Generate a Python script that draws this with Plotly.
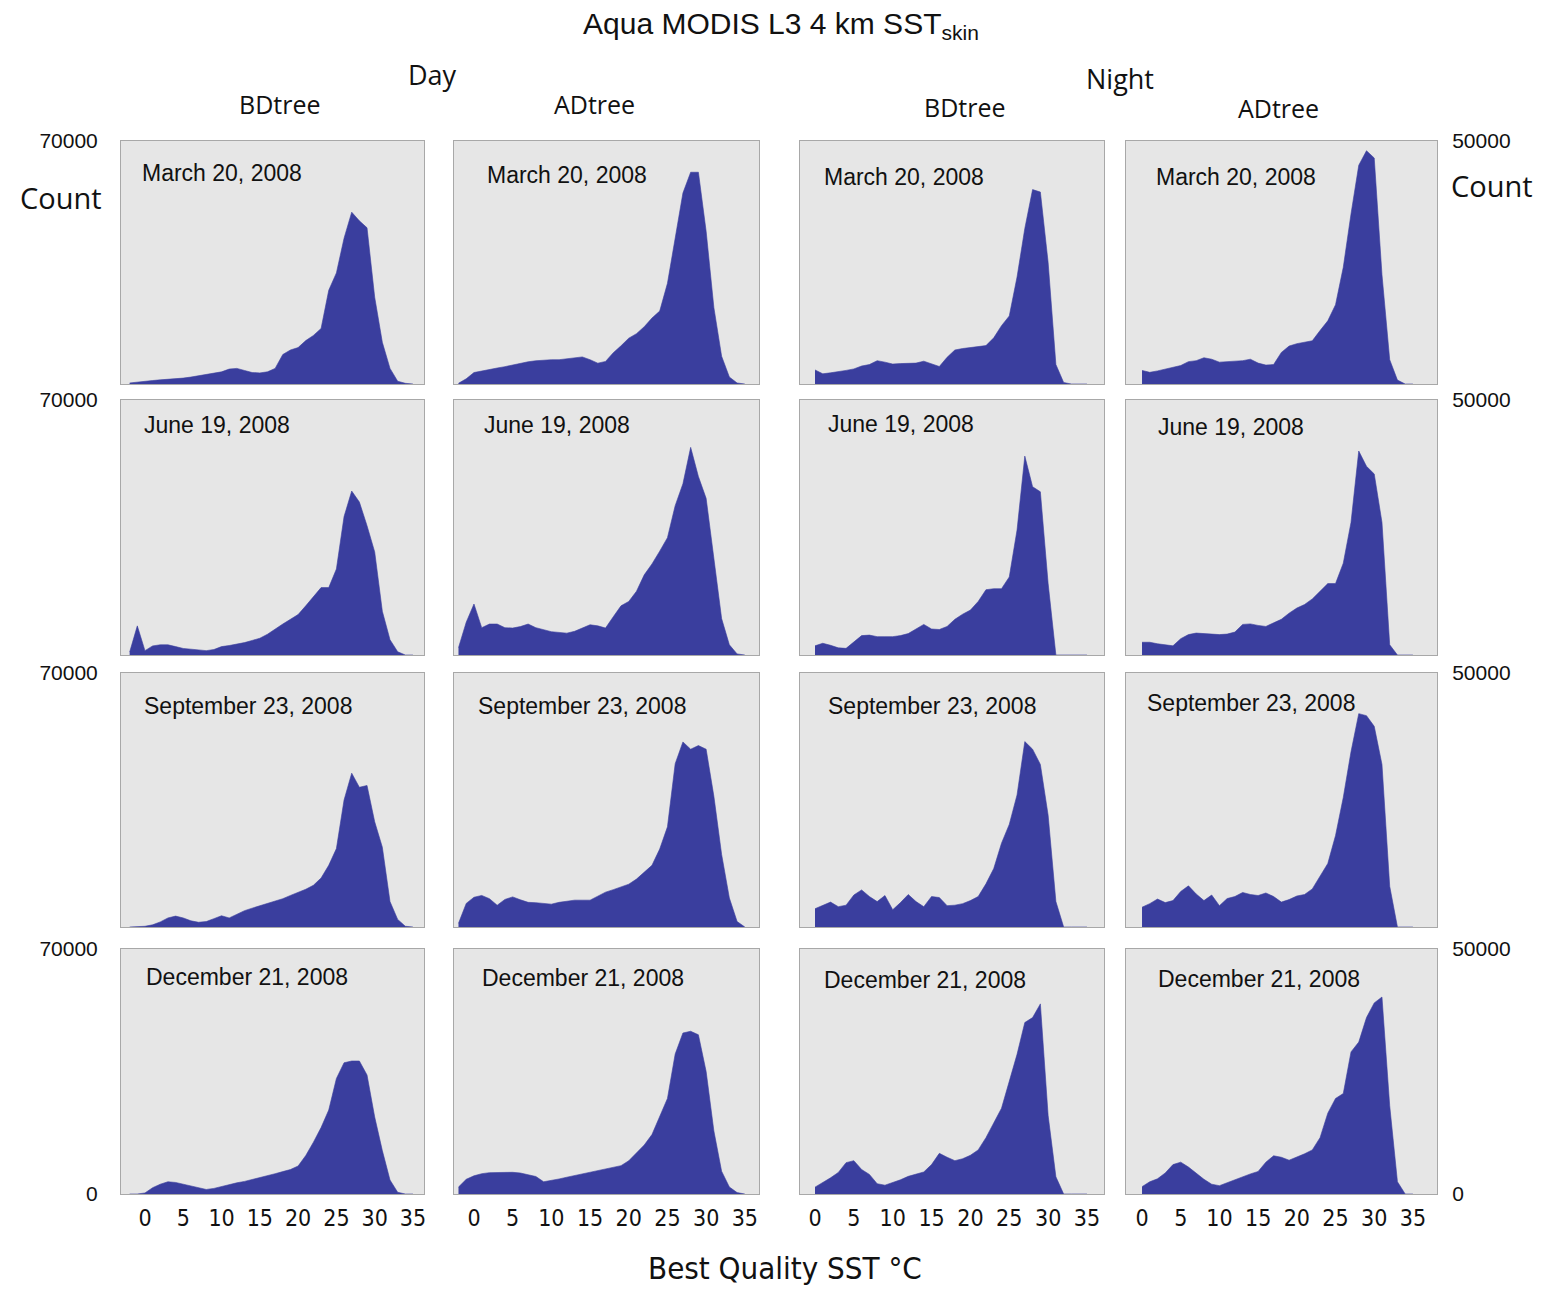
import plotly.graph_objects as go

# ---------------- data ----------------
sst_bins = list(range(-2, 36))  # deg C, -2 .. 35

# Day (count axis 0-70000)
day_bd_mar = [300, 600, 800, 1000, 1200, 1300, 1500, 1700, 2000, 2400, 2800, 3200, 3500, 4300, 4500, 3900, 3300, 3200, 3500, 4500,
              8500, 9800, 10500, 12500, 14000, 16000, 27000, 32000, 42000, 49500, 47000, 45000, 25000, 12000, 4500, 800, 200, 0]
day_ad_mar = [200, 1500, 3300, 3800, 4200, 4600, 5000, 5500, 6000, 6400, 6700, 6900, 7000, 7000, 7300, 7600, 7800, 7000, 6000, 6500,
              9000, 11000, 13200, 14500, 16500, 19000, 21000, 29000, 42000, 55000, 61000, 61000, 44000, 22000, 8000, 2000, 300, 0]
day_bd_jun = [800, 8000, 1200, 2500, 2800, 2800, 2300, 1800, 1600, 1500, 1200, 1500, 2300, 2600, 2900, 3400, 4000, 4600, 5700, 7200,
              8500, 9800, 11100, 13500, 16000, 18500, 18500, 23600, 38000, 45000, 42000, 35500, 28300, 12000, 4200, 900, 0, 0]
day_ad_jun = [2000, 9000, 14000, 7500, 8500, 8500, 7500, 7400, 7800, 8500, 7500, 7000, 6400, 6200, 6000, 6500, 7500, 8300, 8000, 7400,
              10500, 13500, 14700, 17500, 22000, 25000, 28500, 32200, 41000, 47000, 57000, 49000, 43000, 26000, 10000, 2800, 300, 0]
day_bd_sep = [0, 0, 200, 600, 1400, 2500, 3000, 2500, 1700, 1300, 1500, 2300, 3100, 2500, 3600, 4500, 5200, 5800, 6400, 7000,
              7800, 8700, 9500, 10400, 11500, 13500, 17000, 21600, 35000, 42400, 38500, 39000, 29000, 22000, 7000, 2100, 200, 0]
day_ad_sep = [1000, 6500, 8200, 8700, 7800, 6000, 7600, 8300, 7500, 6800, 6700, 6500, 6300, 6800, 7200, 7400, 7400, 7400, 8500, 9600,
              10300, 11000, 11800, 13200, 15000, 17000, 21500, 27600, 45000, 51000, 49000, 50000, 49000, 36000, 20000, 8000, 1500, 0]
day_bd_dec = [0, 0, 300, 1800, 2800, 3500, 3300, 2800, 2200, 1700, 1300, 1600, 2200, 2600, 3200, 3600, 4100, 4600, 5200, 5800,
              6400, 7000, 8000, 11000, 14800, 19000, 24000, 33000, 37500, 38000, 38000, 34000, 22000, 12400, 4000, 500, 0, 0]
day_ad_dec = [2000, 4200, 5200, 5800, 6100, 6200, 6200, 6200, 6000, 5500, 5000, 3500, 3800, 4300, 4800, 5300, 5700, 6300, 6800, 7300,
              7700, 8100, 9500, 11800, 14000, 17000, 22000, 27300, 40000, 46000, 46500, 45500, 35000, 18000, 6500, 2000, 400, 0]

# Night (count axis 0-50000)
night_bd_mar = [None, None, 2900, 2100, 2300, 2500, 2800, 3100, 3700, 4000, 4800, 4500, 4100, 4200, 4300, 4300, 4700, 4100, 3600, 5500,
                7000, 7300, 7500, 7700, 7900, 9500, 12000, 14000, 22000, 32000, 40000, 39500, 25000, 4000, 300, 0, 0, 0]
night_ad_mar = [None, None, 2800, 2400, 2700, 3100, 3400, 3800, 4600, 4800, 5400, 5100, 4500, 4600, 4700, 4800, 5100, 4300, 3900, 4000,
                6500, 7800, 8300, 8600, 8900, 11000, 13000, 16300, 24000, 35000, 45000, 48000, 46500, 22500, 5000, 800, 0, 0]
night_bd_jun = [None, None, 1800, 2300, 1900, 1400, 1300, 2500, 3800, 3900, 3600, 3600, 3600, 3800, 4200, 5100, 6000, 5100, 5000, 5600,
                7000, 8000, 8800, 10500, 12800, 13000, 13000, 15300, 24500, 39000, 33000, 32000, 14000, 0, 0, 0, 0, 0]
night_ad_jun = [None, None, 2500, 2500, 2200, 2000, 1800, 3200, 4000, 4300, 4200, 4000, 4000, 4100, 4500, 6000, 6100, 5800, 5600, 6300,
                7000, 8200, 9200, 9900, 11000, 12500, 14000, 14000, 18000, 26000, 40000, 37000, 35500, 26000, 2000, 0, 0, 0]
night_bd_sep = [None, None, 3600, 4200, 4900, 4000, 4300, 6300, 7300, 6000, 5000, 6200, 3400, 4800, 6400, 5000, 4000, 6000, 5800, 4200,
                4300, 4600, 5200, 6000, 8500, 11500, 16500, 20200, 26000, 36500, 35000, 32000, 22000, 5000, 0, 0, 0, 0]
night_ad_sep = [None, None, 3900, 4600, 5500, 4800, 5200, 7000, 8100, 6500, 5200, 6300, 4200, 5600, 6000, 6800, 6400, 6200, 6700, 6000,
                4900, 5400, 6100, 6400, 7500, 10000, 12500, 18000, 25500, 34500, 42000, 41600, 39500, 32000, 8000, 0, 0, 0]
night_bd_dec = [None, None, 1400, 2300, 3300, 4400, 6400, 6800, 5000, 4000, 2100, 1800, 2300, 2900, 3600, 4100, 4500, 6000, 8300, 7500,
                6800, 7200, 7900, 9000, 11500, 14500, 17500, 23000, 28500, 35000, 36000, 38800, 16000, 3500, 0, 0, 0, 0]
night_ad_dec = [None, None, 1500, 2500, 3100, 4300, 6000, 6500, 5500, 4200, 3000, 2000, 1700, 2300, 2900, 3600, 4100, 4600, 6500, 7800,
                7500, 6900, 7500, 8200, 9000, 11500, 16500, 19500, 20500, 29000, 31000, 36000, 39000, 40200, 18000, 2500, 0, 0]

dates = ["March 20, 2008", "June 19, 2008", "September 23, 2008", "December 21, 2008"]
column_titles = ["BDtree", "ADtree", "BDtree", "ADtree"]
group_titles = ["Day", "Night"]
x_tick_vals = [0, 5, 10, 15, 20, 25, 30, 35]
day_max = 70000
night_max = 50000

grid = [
    [day_bd_mar, day_ad_mar, night_bd_mar, night_ad_mar],
    [day_bd_jun, day_ad_jun, night_bd_jun, night_ad_jun],
    [day_bd_sep, day_ad_sep, night_bd_sep, night_ad_sep],
    [day_bd_dec, day_ad_dec, night_bd_dec, night_ad_dec],
]

# ---------------- layout geometry (pixels) ----------------
W, H = 1549, 1290
col_px = [(121, 424), (454, 759), (800, 1104), (1126, 1437)]
row_px = [(141, 384), (400, 655), (673, 927), (949, 1194)]
col_xrange = [[-3.13, 36.44], [-2.58, 36.83], [-1.93, 37.19], [-2.07, 38.11]]
date_pos = [
    [(140, 173), (485, 175), (822, 177), (1154, 177)],
    [(142, 425), (482, 425), (826, 424), (1156, 427)],
    [(142, 706), (476, 706), (826, 706), (1145, 703)],
    [(144, 977), (480, 978), (822, 980), (1156, 979)],
]

def px(x):
    return x / W

def py(y):
    return 1 - y / H

FILL = "#3a3e9e"
BG = "#e6e6e6"
BORDER = "#a8a8a8"
NARROW = "Liberation Sans Narrow, Arial Narrow, DejaVu Sans Condensed, Liberation Sans, sans-serif"
ARIAL = "Liberation Sans, Arial, sans-serif"
HUMAN = "Open Sans, Noto Sans, sans-serif"

fig = go.Figure()
layout = dict(
    width=W, height=H,
    margin=dict(l=0, r=0, t=0, b=0, pad=0, autoexpand=False),
    paper_bgcolor="white",
    plot_bgcolor=BG,
    showlegend=False,
    annotations=[],
)

for r in range(4):
    for c in range(4):
        n = r * 4 + c + 1
        xa = "x" if n == 1 else f"x{n}"
        ya = "y" if n == 1 else f"y{n}"
        fig.add_trace(go.Scatter(
            x=sst_bins, y=grid[r][c], mode="lines",
            line=dict(width=0.6, color=FILL), fill="tozeroy", fillcolor=FILL,
            xaxis=xa, yaxis=ya, hoverinfo="skip", showlegend=False,
        ))
        x0, x1 = col_px[c]
        y0, y1 = row_px[r]
        ymax = day_max if c < 2 else night_max
        xkey = "xaxis" if n == 1 else f"xaxis{n}"
        ykey = "yaxis" if n == 1 else f"yaxis{n}"
        layout[xkey] = dict(
            domain=[px(x0), px(x1)], anchor=ya, range=col_xrange[c],
            showgrid=False, zeroline=False, showline=True, mirror=True,
            linecolor=BORDER, linewidth=1, ticks="", automargin=False,
            tickvals=x_tick_vals, showticklabels=(r == 3),
            tickfont=dict(family=NARROW, size=23, color="#111"),
            ticklabelstandoff=3, fixedrange=True,
        )
        yd = dict(
            domain=[py(y1), py(y0)], anchor=xa, range=[0, ymax],
            showgrid=False, zeroline=False, showline=True, mirror=True,
            linecolor=BORDER, linewidth=1, ticks="", fixedrange=True,
            automargin=False,
            tickfont=dict(family=ARIAL, size=21, color="#111"),
        )
        if c == 0 or c == 3:
            yd["tickvals"] = [0, ymax] if r == 3 else [ymax]
            yd["ticktext"] = [str(v) for v in yd["tickvals"]]
            yd["showticklabels"] = True
            if c == 3:
                yd["side"] = "right"
                yd["ticklabelstandoff"] = 10
            else:
                yd["ticklabelstandoff"] = 18
        else:
            yd["showticklabels"] = False
        layout[ykey] = yd
        dx, dy = date_pos[r][c]
        layout["annotations"].append(dict(
            text=dates[r], x=px(dx), y=py(dy), xref="paper", yref="paper",
            xanchor="left", yanchor="middle", showarrow=False,
            font=dict(family=ARIAL, size=23, color="#111"),
        ))

def add_text(text, x, y, family, size, xanchor="center"):
    layout["annotations"].append(dict(
        text=text, x=px(x), y=py(y), xref="paper", yref="paper",
        xanchor=xanchor, yanchor="middle", showarrow=False,
        font=dict(family=family, size=size, color="#111"),
    ))

add_text("Aqua MODIS L3 4 km SST<sub>skin</sub>", 781, 25, ARIAL, 30)
add_text(group_titles[0], 432, 75, HUMAN, 27)
add_text(group_titles[1], 1120, 78, HUMAN, 27)
add_text(column_titles[0], 280, 104, HUMAN, 25)
add_text(column_titles[1], 594, 104, HUMAN, 25)
add_text(column_titles[2], 965, 107, HUMAN, 25)
add_text(column_titles[3], 1278, 108, HUMAN, 25)
add_text("Count", 61, 197, HUMAN, 29)
add_text("Count", 1492, 185, HUMAN, 29)
add_text("Best Quality SST °C", 785, 1268, NARROW, 31)

fig.update_layout(**layout)
fig.write_html("out.html", config={"displayModeBar": False},
               post_script="document.body.style.margin='0';")
